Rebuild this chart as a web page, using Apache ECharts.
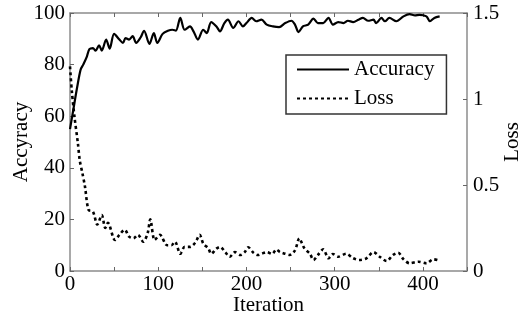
<!DOCTYPE html>
<html>
<head>
<meta charset="utf-8">
<script src="https://cdn.jsdelivr.net/npm/echarts@6/dist/echarts.min.js"></script>
<style>
html,body{margin:0;padding:0;background:#fff;}
#chart{width:531px;height:323px;}
</style>
</head>
<body>
<div id="chart"></div>
<script>
// accuracy curve (left axis)
var accIter = [0,4,8,12,15,19,22,26,29,33,36,41,45,50,56,60,63,67,71,75,80,84,90,95,99,105,111,116,120,125,130,136,140,145,151,155,160,166,170,175,179,185,191,196,200,206,211,217,223,230,237,244,251,255,259,264,270,276,281,287,293,298,304,310,315,321,327,332,338,344,347,353,357,362,370,378,385,391,396,404,408,413,419];
var accuracy = [55,63,71,78,80,83,86,86.4,85.4,87.5,85.4,89.7,86.2,91.9,89.7,88.4,90.3,89.7,91,88.4,90.5,93.1,88,92.2,88.4,91.9,93.1,93.5,93.2,98.1,93.5,94.8,92.9,89.7,93.5,92.2,96.5,94.8,92.9,96.1,97.4,94.2,96.8,94.8,96.1,98.1,96.8,97.4,95.5,94.8,94.5,96.1,97,95.5,92.6,94.8,95.5,97.8,96.1,96.1,98.1,95.5,96.5,96.1,97,96.5,97.4,98.1,97,97.4,96.1,98.1,96.8,98.1,96.8,98.7,99.6,99.1,99.3,98.7,96.8,98.1,98.7];
// loss curve (right axis)
var lossIter = [0,2,5,9,11,14,17,21,26,31,36,40,43,51,56,62,67,72,77,83,88,91,96,102,110,115,119,125,130,136,142,147,151,157,160,166,170,176,181,187,193,198,202,208,213,217,223,229,234,238,244,249,255,260,263,266,272,276,281,287,293,298,304,313,321,328,336,344,351,359,366,372,378,385,395,404,412,419];
var loss = [1.19,1.05,0.9,0.74,0.645,0.57,0.49,0.355,0.345,0.27,0.325,0.25,0.28,0.18,0.21,0.24,0.2,0.19,0.21,0.17,0.22,0.3,0.18,0.21,0.15,0.15,0.17,0.1,0.14,0.14,0.165,0.21,0.16,0.13,0.1,0.13,0.14,0.11,0.083,0.11,0.093,0.11,0.138,0.106,0.093,0.1,0.11,0.099,0.125,0.11,0.1,0.093,0.12,0.19,0.16,0.13,0.1,0.064,0.093,0.126,0.074,0.099,0.083,0.1,0.074,0.064,0.074,0.11,0.083,0.058,0.093,0.106,0.068,0.045,0.054,0.045,0.068,0.06];

function zip(xs, ys){
	var out = [];
	for (var i = 0; i < xs.length; i++) out.push([xs[i], ys[i]]);
	return out;
}

var font = '"Liberation Serif", "DejaVu Serif", serif';
var axisGrey = '#8c8c8c';
var fs = 21;

var option = {
	animation: false,
	backgroundColor: '#fff',
	textStyle: {fontFamily: font, color: '#000'},
	grid: {left: 70, right: 64, top: 13, bottom: 52, containLabel: false, outerBoundsMode: 'none'},
	legend: {
		orient: 'vertical',
		left: 286, top: 55,
		padding: [4, 12, 5, 10],
		itemGap: 8,
		itemWidth: 52, itemHeight: 14,
		borderColor: '#333', borderWidth: 1.5,
		backgroundColor: '#fff',
		itemStyle: {color: 'rgba(0,0,0,0)', borderWidth: 0},
		textStyle: {fontFamily: font, fontSize: fs, color: '#000', lineHeight: 21},
		data: ['Accuracy', 'Loss']
	},
	xAxis: [{
		type: 'value', min: 0, max: 450, interval: 50,
		name: 'Iteration', nameLocation: 'middle', nameGap: 24, nameMoveOverlap: false,
		nameTextStyle: {fontFamily: font, fontSize: fs, color: '#000'},
		axisLine: {show: true, onZero: false, lineStyle: {color: axisGrey, width: 1.5}},
		axisTick: {show: true, inside: true, length: 4, lineStyle: {color: '#666'}},
		axisLabel: {fontFamily: font, fontSize: fs, color: '#000', margin: 3,
			formatter: function(v){ return v % 100 === 0 ? v : ''; }},
		splitLine: {show: false}
	}, {
		type: 'value', min: 0, max: 450, interval: 50, position: 'top',
		axisLine: {show: true, onZero: false, lineStyle: {color: axisGrey, width: 1.5}},
		axisTick: {show: true, inside: true, length: 4, lineStyle: {color: '#666'}},
		axisLabel: {show: false},
		splitLine: {show: false}
	}],
	yAxis: [{
		type: 'value', min: 0, max: 100, interval: 20,
		name: 'Accyracy', nameLocation: 'middle', nameGap: 38, nameRotate: 90, nameMoveOverlap: false,
		nameTextStyle: {fontFamily: font, fontSize: fs, color: '#000'},
		axisLine: {show: true, onZero: false, lineStyle: {color: axisGrey, width: 1.5}},
		axisTick: {show: true, inside: true, length: 4, lineStyle: {color: '#666'}},
		axisLabel: {fontFamily: font, fontSize: fs, color: '#000', margin: 5},
		splitLine: {show: false}
	}, {
		type: 'value', min: 0, max: 1.5, interval: 0.5, position: 'right',
		name: 'Loss', nameLocation: 'middle', nameGap: 35, nameRotate: 90, nameMoveOverlap: false,
		nameTextStyle: {fontFamily: font, fontSize: fs, color: '#000'},
		axisLine: {show: true, onZero: false, lineStyle: {color: axisGrey, width: 1.5}},
		axisTick: {show: true, inside: true, length: 4, lineStyle: {color: '#666'}},
		axisLabel: {fontFamily: font, fontSize: fs, color: '#000', margin: 6},
		splitLine: {show: false}
	}],
	series: [{
		name: 'Accuracy', type: 'line', xAxisIndex: 0, yAxisIndex: 0,
		data: zip(accIter, accuracy),
		symbol: 'none', smooth: 0.3,
		lineStyle: {color: '#000', width: 2.2},
		itemStyle: {color: '#000'}
	}, {
		name: 'Loss', type: 'line', xAxisIndex: 0, yAxisIndex: 1,
		data: zip(lossIter, loss),
		symbol: 'none', smooth: 0.3,
		lineStyle: {color: '#000', width: 2.6, type: [3, 3]},
		itemStyle: {color: '#000'}
	}]
};

var myChart = echarts.init(document.getElementById('chart'));
myChart.setOption(option);
</script>
</body>
</html>
